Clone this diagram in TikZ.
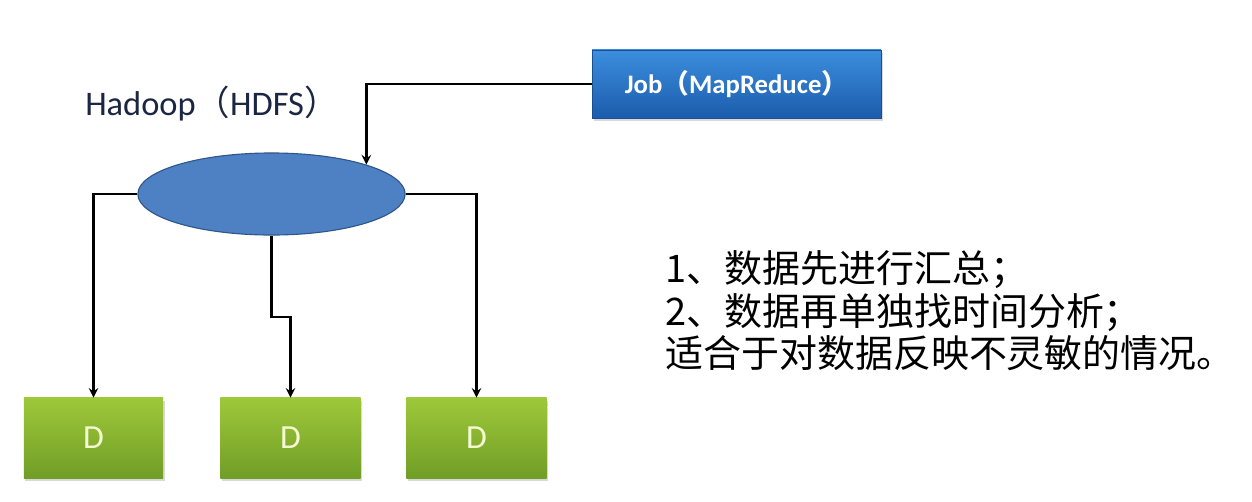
\documentclass[tikz,border=0pt]{standalone}
\usepackage{fontspec}
\setmainfont{Carlito}
\newfontfamily\cjk{Noto Sans CJK SC}
\usetikzlibrary{shapes.geometric, arrows, shadows}
\definecolor{jobtop}{RGB}{60,142,222}
\definecolor{jobbot}{RGB}{28,92,172}
\definecolor{hdfsblue}{RGB}{78,128,196}
\definecolor{hdfsline}{RGB}{48,86,138}
\definecolor{dtop}{RGB}{158,200,58}
\definecolor{dbot}{RGB}{112,158,38}
\definecolor{dtext}{RGB}{246,250,210}
\definecolor{labelnavy}{RGB}{28,38,66}
\tikzset{
    jobbox/.style = {rectangle, minimum width=7.22cm, minimum height=1.7cm, top color=jobtop, bottom color=jobbot, draw=jobbot!85!black, drop shadow={opacity=0.3, shadow xshift=0.04cm, shadow yshift=-0.08cm}, text=white, font=\fontsize{19}{21}\selectfont\bfseries},
    hdfs/.style = {ellipse, minimum width=6.68cm, minimum height=2.05cm, draw=hdfsline, fill=hdfsblue, thick},
    datanode/.style = {rectangle, minimum width=3.5cm, minimum height=2cm, top color=dtop, bottom color=dbot, drop shadow={opacity=0.3, shadow xshift=0.04cm, shadow yshift=-0.08cm}, text=dtext, font=\fontsize{24}{26}\selectfont},
    arrow/.style = {line width=2pt, ->, >=stealth},
    note/.style = {align=left, inner sep=0pt, font=\cjk\fontsize{27}{30.2}\selectfont}
}
\begin{document}
\begin{tikzpicture}[x=0.025cm, y=-0.025cm]
    \useasboundingbox (0,0) rectangle (1252,501);

    % Job and storage
    \node[jobbox] (job) at (736.5,84) {Job{\cjk （}MapReduce{\cjk ）}};
    \node[anchor=west, inner sep=0pt, text=labelnavy, font=\fontsize{24.5}{26}\selectfont] (hadoop) at (85,104) {Hadoop{\cjk （}HDFS{\cjk ）}};
    \node[hdfs] (hdfs) at (271.5,194) {};

    % Data nodes
    \node[datanode, minimum width=3.48cm] (d1) at (93.5,438) {D};
    \node[datanode] (d2) at (290.5,438) {D};
    \node[datanode] (d3) at (476.5,438) {D};

    % Connectors
    \coordinate (bend) at (271.5,317);
    \draw[arrow] (job.west) -| (hdfs.north east);
    \draw[arrow] (hdfs.west) -| (d1.north);
    \draw[arrow] (hdfs.south) -- (bend) -| (d2.north);
    \draw[arrow] (hdfs.east) -| (d3.north);

    % Notes
    \node[note, anchor=west] (notes) at (665,311) {1、数据先进行汇总；\\2、数据再单独找时间分析；\\适合于对数据反映不灵敏的情况。};
\end{tikzpicture}
\end{document}
